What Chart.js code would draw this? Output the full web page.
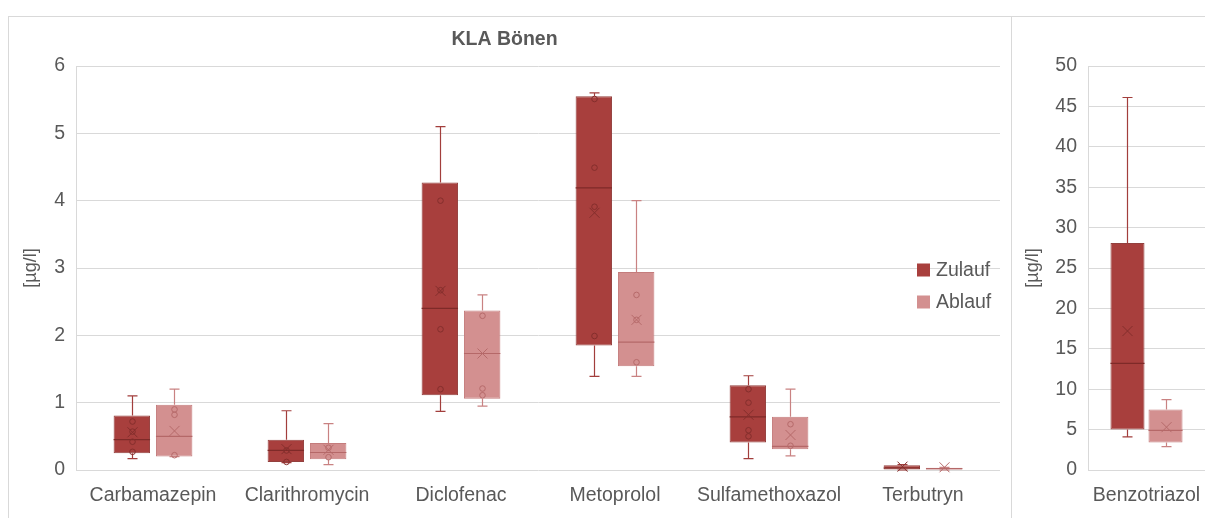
<!DOCTYPE html>
<html><head><meta charset="utf-8">
<script src="https://cdn.jsdelivr.net/npm/chart.js@4.4.1/dist/chart.umd.min.js"></script>
<style>
html,body{margin:0;padding:0;background:#fff;overflow:hidden;width:1205px;height:518px;}
#p1{position:absolute;left:8px;top:16px;width:1004px;height:540px;border:1px solid #d9d9d9;border-bottom:none;box-sizing:border-box;}
#p2{position:absolute;left:1011px;top:16px;width:240px;height:540px;border-top:1px solid #d9d9d9;box-sizing:border-box;}
#c1{position:absolute;left:0;top:0;}
#c2{position:absolute;left:2px;top:0;}
</style></head>
<body>
<div id="p1"><canvas id="c1" width="1002" height="501"></canvas></div>
<div id="p2"><canvas id="c2" width="192" height="501"></canvas></div>
<script>
// ---------- data ----------
const chartTitle = 'KLA Bönen';
const axisTitle = '[µg/l]';
const seriesNames = ['Zulauf', 'Ablauf'];

const categories = ['Carbamazepin', 'Clarithromycin', 'Diclofenac', 'Metoprolol', 'Sulfamethoxazol', 'Terbutryn'];
const leftAxisMax = 6, leftAxisStep = 1;

const zulaufMin    = [0.17, 0.11, 0.87, 1.39, 0.17, 0.00];
const zulaufQ1     = [0.25, 0.12, 1.11, 1.85, 0.41, 0.00];
const zulaufMedian = [0.45, 0.29, 2.40, 4.19, 0.79, 0.03];
const zulaufQ3     = [0.81, 0.45, 4.27, 5.55, 1.26, 0.07];
const zulaufMax    = [1.10, 0.88, 5.10, 5.60, 1.40, 0.08];
const zulaufMean   = [0.56, 0.31, 2.66, 3.82, 0.82, 0.05];
const zulaufPoints = [[0.72, 0.57, 0.42, 0.27], [0.29, 0.12], [4.00, 2.67, 2.09, 1.20], [5.51, 4.49, 3.91, 1.99], [1.20, 1.00, 0.59, 0.50], []];

const ablaufMin    = [0.20, 0.08, 0.95, 1.39, 0.21, 0.00];
const ablaufQ1     = [0.20, 0.16, 1.06, 1.54, 0.31, 0.00];
const ablaufMedian = [0.50, 0.26, 1.73, 1.90, 0.35, 0.02];
const ablaufQ3     = [0.97, 0.40, 2.37, 2.94, 0.79, 0.035];
const ablaufMax    = [1.20, 0.69, 2.60, 4.00, 1.20, 0.04];
const ablaufMean   = [0.58, 0.30, 1.73, 2.23, 0.52, 0.04];
const ablaufPoints = [[0.90, 0.82, 0.22], [0.33, 0.19], [2.29, 1.21, 1.11], [2.60, 2.23, 1.60], [0.68, 0.36], []];

const categories2 = ['Benzotriazol'];
const rightAxisMax = 50, rightAxisStep = 5;
const benzoZulaufMin = [4.1], benzoZulaufQ1 = [5.0], benzoZulaufMedian = [13.2], benzoZulaufQ3 = [28.1], benzoZulaufMax = [46.1], benzoZulaufMean = [17.2], benzoZulaufPoints = [[]];
const benzoAblaufMin = [2.9], benzoAblaufQ1 = [3.4], benzoAblaufMedian = [4.9], benzoAblaufQ3 = [7.5], benzoAblaufMax = [8.7], benzoAblaufMean = [5.3], benzoAblaufPoints = [[]];

// ---------- styles ----------
const FONT = "'Liberation Sans', Arial, sans-serif";
const TXT = '#595959';
const GRID = '#d9d9d9';
const styleZ = {fill: '#A83F3D', border: '#93403E', whisker: '#A23E3C', median: '#7E2A28', marker: '#842E2C'};
const styleA = {fill: '#D39090', border: '#C47C7C', whisker: '#C98282', median: '#B56868', marker: '#B66A6A'};

function makeDataset(name, q1, q3, min, median, max, mean, points, st) {
  return {
    label: name,
    data: q1.map((v, i) => [v, q3[i]]),
    backgroundColor: st.fill, borderColor: st.border, borderWidth: 1, borderSkipped: false,
    stats: {min, median, max, mean, points}, st
  };
}

const boxExtras = {
  id: 'boxExtras',
  afterDatasetsDraw(chart) {
    const ctx = chart.ctx, ys = chart.scales.y;
    chart.data.datasets.forEach((ds, di) => {
      const meta = chart.getDatasetMeta(di);
      const s = ds.stats, st = ds.st;
      meta.data.forEach((bar, i) => {
        const x = Math.round(bar.x) + 0.5;
        const l = bar.x - bar.width / 2, r = bar.x + bar.width / 2;
        const yMin = ys.getPixelForValue(s.min[i]), yMax = ys.getPixelForValue(s.max[i]);
        const yQ1 = ys.getPixelForValue(ds.data[i][0]), yQ3 = ys.getPixelForValue(ds.data[i][1]);
        const yMed = ys.getPixelForValue(s.median[i]), yMean = ys.getPixelForValue(s.mean[i]);
        ctx.save();
        ctx.lineWidth = 1.2;
        ctx.strokeStyle = st.whisker;
        ctx.beginPath();
        if (yMax < yQ3 - 0.5) { ctx.moveTo(x, yQ3); ctx.lineTo(x, yMax); }
        ctx.moveTo(x - 5, yMax); ctx.lineTo(x + 5, yMax);
        if (yMin > yQ1 + 0.5) { ctx.moveTo(x, yQ1); ctx.lineTo(x, yMin); }
        ctx.moveTo(x - 5, yMin); ctx.lineTo(x + 5, yMin);
        ctx.stroke();
        ctx.strokeStyle = st.median;
        ctx.beginPath(); ctx.moveTo(l, yMed); ctx.lineTo(r, yMed); ctx.stroke();
        ctx.strokeStyle = st.marker;
        ctx.lineWidth = 1;
        s.points[i].forEach(v => {
          const py = ys.getPixelForValue(v);
          ctx.beginPath(); ctx.arc(x, py, 2.8, 0, Math.PI * 2); ctx.stroke();
        });
        ctx.beginPath();
        ctx.moveTo(x - 5, yMean - 5); ctx.lineTo(x + 5, yMean + 5);
        ctx.moveTo(x + 5, yMean - 5); ctx.lineTo(x - 5, yMean + 5);
        ctx.stroke();
        ctx.restore();
      });
    });
  }
};

const legendBox = {
  id: 'legendBox',
  afterDraw(chart, args, opts) {
    if (!opts || !opts.show) return;
    const ctx = chart.ctx, a = chart.chartArea;
    const lx = a.right - 83;
    const rows = [[seriesNames[0], styleZ.fill, a.top + 204], [seriesNames[1], styleA.fill, a.top + 236]];
    ctx.save();
    ctx.font = '19.5px ' + FONT;
    ctx.textBaseline = 'middle';
    rows.forEach(([t, c, cy]) => {
      ctx.fillStyle = c;
      ctx.fillRect(lx, cy - 6.5, 13, 13);
      ctx.fillStyle = TXT;
      ctx.fillText(t, lx + 19, cy + 1);
    });
    ctx.restore();
  }
};

function buildOptions(max, step, yWidth, titlePadTop, padRight, cp, bp, showTitle, showLegend, padTop) {
  return {
    responsive: false, animation: false,
    datasets: {bar: {categoryPercentage: cp, barPercentage: bp, grouped: true}},
    layout: {padding: {left: 0, right: padRight, top: padTop, bottom: 0}},
    plugins: {
      legend: {display: false}, tooltip: {enabled: false},
      title: {display: showTitle, text: chartTitle, color: TXT, font: {family: FONT, size: 19.5, weight: 'bold'}, padding: {top: 11.3, bottom: 14.3}},
      legendBox: {show: showLegend}
    },
    scales: {
      x: {
        grid: {display: false, drawTicks: false}, border: {display: false},
        ticks: {color: TXT, font: {family: FONT, size: 19.5}, padding: 13.5, maxRotation: 0, autoSkip: false},
        afterFit: s => { s.height = 48; s.paddingLeft = 0; s.paddingRight = 0; }
      },
      y: {
        min: 0, max: max,
        grid: {color: GRID, lineWidth: 1, drawTicks: false},
        border: {display: true, color: GRID},
        ticks: {stepSize: step, color: TXT, font: {family: FONT, size: 19.5}, padding: 11},
        title: {display: true, text: axisTitle, color: TXT, font: {family: FONT, size: 18}, padding: {top: titlePadTop, bottom: 0}},
        afterFit: s => { s.width = yWidth; }
      }
    }
  };
}

new Chart(document.getElementById('c1'), {
  type: 'bar',
  data: {
    labels: categories,
    datasets: [
      makeDataset(seriesNames[0], zulaufQ1, zulaufQ3, zulaufMin, zulaufMedian, zulaufMax, zulaufMean, zulaufPoints, styleZ),
      makeDataset(seriesNames[1], ablaufQ1, ablaufQ3, ablaufMin, ablaufMedian, ablaufMax, ablaufMean, ablaufPoints, styleA)
    ]
  },
  options: buildOptions(leftAxisMax, leftAxisStep, 67, 11, 11, 0.55, 0.86, true, true, 0),
  plugins: [boxExtras, legendBox]
});

new Chart(document.getElementById('c2'), {
  type: 'bar',
  data: {
    labels: categories2,
    datasets: [
      makeDataset(seriesNames[0], benzoZulaufQ1, benzoZulaufQ3, benzoZulaufMin, benzoZulaufMedian, benzoZulaufMax, benzoZulaufMean, benzoZulaufPoints, styleZ),
      makeDataset(seriesNames[1], benzoAblaufQ1, benzoAblaufQ3, benzoAblaufMin, benzoAblaufMedian, benzoAblaufMax, benzoAblaufMean, benzoAblaufPoints, styleA)
    ]
  },
  options: buildOptions(rightAxisMax, rightAxisStep, 75, 9.2, 0, 0.65, 0.895, false, false, 49),
  plugins: [boxExtras, legendBox]
});
</script>
</body></html>
